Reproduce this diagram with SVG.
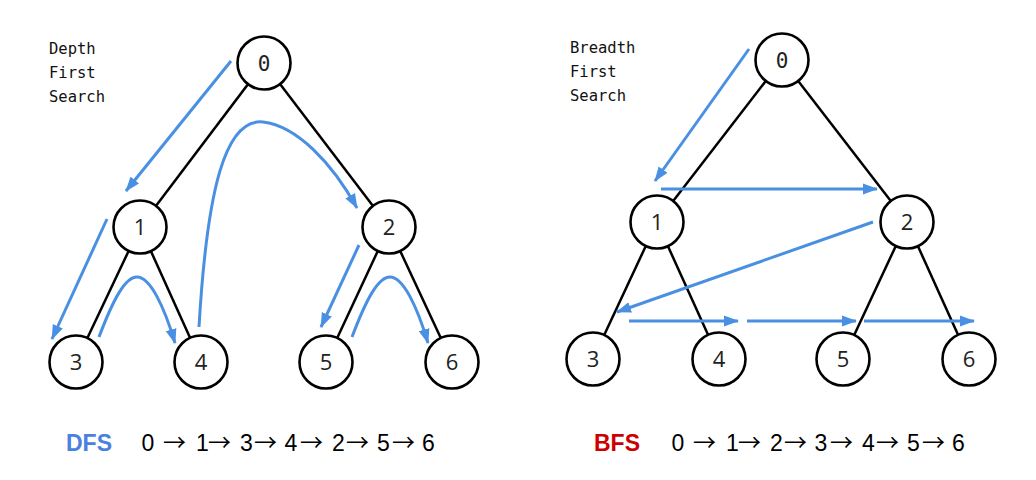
<svg xmlns="http://www.w3.org/2000/svg" width="1036" height="480" viewBox="0 0 1036 480">
<defs>
<marker id="ah" markerUnits="userSpaceOnUse" markerWidth="16" markerHeight="12" viewBox="0 0 16 12" refX="14" refY="6" orient="auto">
<path d="M0,0.5 L15,6 L0,11.5 Z" fill="#4a90e2"/>
</marker>
<style>
.edge{stroke:#000;stroke-width:2.5;fill:none}
.nd circle{fill:#fff;stroke:#000;stroke-width:2.6}
.nd text{font-family:"Open Sans","DejaVu Sans",sans-serif;font-size:22px;text-anchor:middle;fill:#222}
.nd text.mono{font-family:"DejaVu Sans Mono",monospace;font-size:21px}
.blue{stroke:#4a90e2;stroke-width:3;fill:none;marker-end:url(#ah)}
.lbl{font-family:"DejaVu Sans Mono",monospace;font-size:15.5px;fill:#111}
.seq{font-family:"Liberation Sans",Arial,sans-serif;font-size:23px;fill:#000}
.seq .ar{font-family:"Noto Sans CJK SC",sans-serif;font-size:23px}
.hd{font-family:"Liberation Sans",Arial,sans-serif;font-size:23px;font-weight:bold}
</style>
</defs>
<rect width="1036" height="480" fill="#fff"/>

<g id="tree-edges">
<line class="edge" x1="264" y1="63" x2="140" y2="227"/>
<line class="edge" x1="264" y1="63" x2="389" y2="227"/>
<line class="edge" x1="140" y1="227" x2="76" y2="362"/>
<line class="edge" x1="140" y1="227" x2="201" y2="362"/>
<line class="edge" x1="389" y1="227" x2="326" y2="362"/>
<line class="edge" x1="389" y1="227" x2="452" y2="362"/>
<line class="edge" x1="782" y1="60" x2="657" y2="222"/>
<line class="edge" x1="782" y1="60" x2="907" y2="222"/>
<line class="edge" x1="657" y1="222" x2="593" y2="359"/>
<line class="edge" x1="657" y1="222" x2="719" y2="359"/>
<line class="edge" x1="907" y1="222" x2="843" y2="359"/>
<line class="edge" x1="907" y1="222" x2="969" y2="359"/>
</g>

<g id="dfs-0" class="nd"><circle cx="264" cy="63" r="26.5"/><text class="mono" x="264" y="70.5">0</text></g>
<g id="dfs-1" class="nd"><circle cx="140" cy="227" r="26.5"/><text x="140" y="235">1</text></g>
<g id="dfs-2" class="nd"><circle cx="389" cy="227" r="26.5"/><text x="389" y="235">2</text></g>
<g id="dfs-3" class="nd"><circle cx="76" cy="362" r="26.5"/><text x="76" y="370">3</text></g>
<g id="dfs-4" class="nd"><circle cx="201" cy="362" r="26.5"/><text x="201" y="370">4</text></g>
<g id="dfs-5" class="nd"><circle cx="326" cy="362" r="26.5"/><text x="326" y="370">5</text></g>
<g id="dfs-6" class="nd"><circle cx="452" cy="362" r="26.5"/><text x="452" y="370">6</text></g>

<g id="bfs-0" class="nd"><circle cx="782" cy="60" r="26.5"/><text class="mono" x="782" y="67.5">0</text></g>
<g id="bfs-1" class="nd"><circle cx="657" cy="222" r="26.5"/><text x="657" y="230">1</text></g>
<g id="bfs-2" class="nd"><circle cx="907" cy="222" r="26.5"/><text x="907" y="230">2</text></g>
<g id="bfs-3" class="nd"><circle cx="593" cy="359" r="26.5"/><text x="593" y="367">3</text></g>
<g id="bfs-4" class="nd"><circle cx="719" cy="359" r="26.5"/><text x="719" y="367">4</text></g>
<g id="bfs-5" class="nd"><circle cx="843" cy="359" r="26.5"/><text x="843" y="367">5</text></g>
<g id="bfs-6" class="nd"><circle cx="969" cy="359" r="26.5"/><text x="969" y="367">6</text></g>

<g id="traversal-arrows">
<path class="blue" d="M231,61 L126,191"/>
<path class="blue" d="M107,219 L52,339"/>
<path class="blue" d="M99,337 C113,300 125,277 137,277 C150,277 164,306 175,343"/>
<path class="blue" d="M199,327 C207,190 225,118 263,122 C297,126 332,163 357,208"/>
<path class="blue" d="M359,245 L321,327"/>
<path class="blue" d="M352,337 C366,300 378,277 390,277 C403,277 417,306 428,343"/>
<path class="blue" d="M749,49 L655,181"/>
<path class="blue" d="M661,189 L877,189"/>
<path class="blue" d="M873,222 L617,312"/>
<path class="blue" d="M629,321 L738,321"/>
<path class="blue" d="M747,321 L856,321"/>
<path class="blue" d="M864,321 L974,321"/>
</g>

<g id="labels">
<text class="lbl" x="49" y="54">Depth</text>
<text class="lbl" x="49" y="78">First</text>
<text class="lbl" x="49" y="102">Search</text>
<text class="lbl" x="570" y="53">Breadth</text>
<text class="lbl" x="570" y="77">First</text>
<text class="lbl" x="570" y="101">Search</text>
<text class="hd" x="66" y="451" fill="#4a80e0">DFS</text>
<text class="seq" y="451"><tspan x="141.5">0</tspan><tspan class="ar" x="163">→</tspan><tspan x="196">1</tspan><tspan class="ar" x="208">→</tspan><tspan x="240">3</tspan><tspan class="ar" x="254">→</tspan><tspan x="284.5">4</tspan><tspan class="ar" x="300">→</tspan><tspan x="332">2</tspan><tspan class="ar" x="346">→</tspan><tspan x="377">5</tspan><tspan class="ar" x="392">→</tspan><tspan x="422">6</tspan></text>
<text class="hd" x="594" y="451" fill="#cc0000">BFS</text>
<text class="seq" y="451"><tspan x="671.5">0</tspan><tspan class="ar" x="693">→</tspan><tspan x="726">1</tspan><tspan class="ar" x="738">→</tspan><tspan x="770">2</tspan><tspan class="ar" x="784">→</tspan><tspan x="814.5">3</tspan><tspan class="ar" x="830">→</tspan><tspan x="862">4</tspan><tspan class="ar" x="876">→</tspan><tspan x="907">5</tspan><tspan class="ar" x="922">→</tspan><tspan x="952">6</tspan></text>
</g>
</svg>
